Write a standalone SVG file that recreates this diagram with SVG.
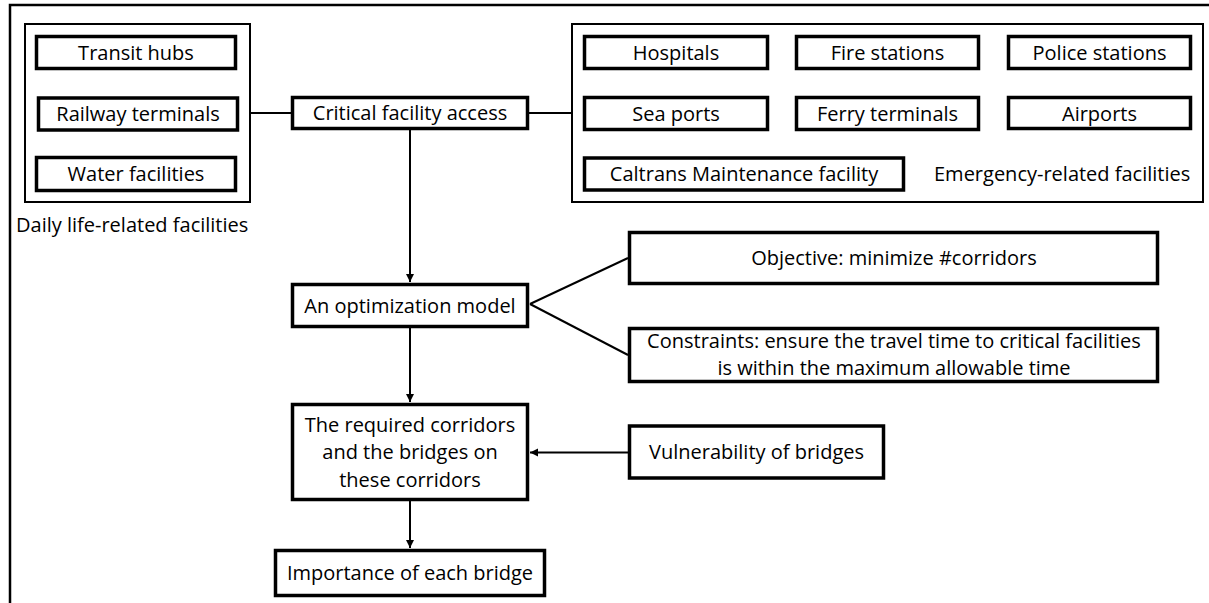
<svg xmlns="http://www.w3.org/2000/svg" width="1209" height="603" viewBox="0 0 1209 603">
<style>
.frame{fill:none;stroke:#000;stroke-width:2.5}
.grp{fill:none;stroke:#000;stroke-width:2}
.box{fill:#fff;stroke:#000;stroke-width:3.5}
.t{font-family:"Open Sans","Liberation Sans",sans-serif;font-size:20px;fill:#000;text-anchor:middle}
.ts{font-family:"Open Sans","Liberation Sans",sans-serif;font-size:20px;fill:#000}
.ln{fill:none;stroke:#000;stroke-width:2}
</style>
<defs>
<marker id="arr" markerUnits="userSpaceOnUse" viewBox="0 0 10 10" refX="10" refY="5" markerWidth="8" markerHeight="9" orient="auto">
<path d="M0,0 L10,5 L0,10 z" fill="#000"/>
</marker>
</defs>
<rect width="1209" height="603" fill="#fff"/>
<rect class="frame" x="10" y="5" width="1215" height="620"/>

<g id="connectors">
<line class="ln" x1="250" y1="113" x2="291" y2="113"/>
<line class="ln" x1="529" y1="113" x2="572" y2="113"/>
<line class="ln" x1="410" y1="130" x2="410" y2="282" marker-end="url(#arr)"/>
<line class="ln" x1="530" y1="304" x2="628" y2="258"/>
<line class="ln" x1="530" y1="304" x2="628" y2="355"/>
<line class="ln" x1="410" y1="328" x2="410" y2="402" marker-end="url(#arr)"/>
<line class="ln" x1="628" y1="452.5" x2="530" y2="452.5" marker-end="url(#arr)"/>
<line class="ln" x1="410" y1="501" x2="410" y2="548" marker-end="url(#arr)"/>
</g>

<g id="daily-group">
<rect class="grp" x="25" y="24" width="225" height="178"/>
<text class="ts" x="16" y="232">Daily life-related facilities</text>
</g>
<g id="transit-hubs">
<rect class="box" x="36.5" y="36.5" width="199" height="32"/>
<text class="t" x="136" y="60">Transit hubs</text>
</g>
<g id="railway-terminals">
<rect class="box" x="38.5" y="98" width="199" height="32"/>
<text class="t" x="138" y="121">Railway terminals</text>
</g>
<g id="water-facilities">
<rect class="box" x="36.5" y="157.5" width="199" height="33"/>
<text class="t" x="136" y="181">Water facilities</text>
</g>

<g id="critical-facility-access">
<rect class="box" x="292.5" y="97.5" width="235" height="31"/>
<text class="t" x="410" y="120">Critical facility access</text>
</g>

<g id="emergency-group">
<rect class="grp" x="572" y="24" width="631" height="178"/>
<text class="ts" x="934" y="181">Emergency-related facilities</text>
</g>
<g id="hospitals">
<rect class="box" x="584.5" y="36.5" width="183" height="32"/>
<text class="t" x="676" y="60">Hospitals</text>
</g>
<g id="fire-stations">
<rect class="box" x="796.5" y="36.5" width="182" height="32"/>
<text class="t" x="887.5" y="60">Fire stations</text>
</g>
<g id="police-stations">
<rect class="box" x="1008.5" y="36.5" width="182" height="32"/>
<text class="t" x="1099.5" y="60">Police stations</text>
</g>
<g id="sea-ports">
<rect class="box" x="584.5" y="97.5" width="183" height="32"/>
<text class="t" x="676" y="121">Sea ports</text>
</g>
<g id="ferry-terminals">
<rect class="box" x="796.5" y="97.5" width="182" height="32"/>
<text class="t" x="887.5" y="121">Ferry terminals</text>
</g>
<g id="airports">
<rect class="box" x="1008.5" y="97.5" width="182" height="31"/>
<text class="t" x="1099.5" y="121">Airports</text>
</g>
<g id="caltrans">
<rect class="box" x="584.5" y="158" width="319" height="32"/>
<text class="t" x="744" y="181">Caltrans Maintenance facility</text>
</g>

<g id="optimization-model">
<rect class="box" x="292.5" y="284.5" width="235" height="42"/>
<text class="t" x="410" y="312.5">An optimization model</text>
</g>
<g id="objective">
<rect class="box" x="629.5" y="232.5" width="528" height="51"/>
<text class="t" x="894" y="265">Objective: minimize #corridors</text>
</g>
<g id="constraints">
<rect class="box" x="629.5" y="328.5" width="528" height="53"/>
<text class="t" x="894" y="348">Constraints: ensure the travel time to critical facilities</text>
<text class="t" x="894" y="375">is within the maximum allowable time</text>
</g>
<g id="required-corridors">
<rect class="box" x="292.5" y="404.5" width="235" height="95"/>
<text class="t" x="410" y="431.5">The required corridors</text>
<text class="t" x="410" y="459">and the bridges on</text>
<text class="t" x="410" y="486.5">these corridors</text>
</g>
<g id="vulnerability">
<rect class="box" x="629.5" y="426" width="254" height="52"/>
<text class="t" x="756.5" y="459">Vulnerability of bridges</text>
</g>
<g id="importance">
<rect class="box" x="275.5" y="550.5" width="269" height="45"/>
<text class="t" x="410" y="580">Importance of each bridge</text>
</g>
</svg>
